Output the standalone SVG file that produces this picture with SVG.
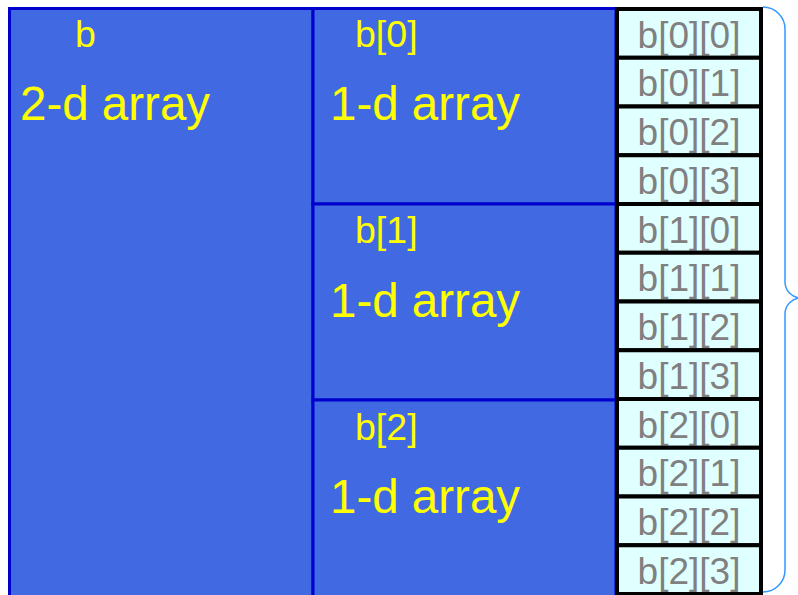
<svg xmlns="http://www.w3.org/2000/svg" width="798" height="595" viewBox="0 0 798 595">
<style>
.blk{fill:#4169E1;stroke:#0000CC;stroke-width:3}
.cell{fill:#E0FFFF;stroke:#000;stroke-width:4}
.lab{font-family:"Liberation Sans",Arial,sans-serif;fill:#FFFF00;font-size:37.5px}
.big{font-family:"Liberation Sans",Arial,sans-serif;fill:#FFFF00;font-size:47.5px}
.ct{font-family:"Liberation Sans",Arial,sans-serif;fill:#808080;font-size:37px;text-anchor:middle}
.brace{fill:none;stroke:#3399FF;stroke-width:1.5}
</style>
<rect width="798" height="595" fill="#fff"/>
<g id="b">
<rect class="blk" x="9.5" y="8.5" width="303.5" height="600"/>
<text class="lab" x="75" y="47">b</text>
<text class="big" x="20" y="120">2-d array</text>
</g>
<g id="b0">
<rect class="blk" x="313" y="8.5" width="303" height="195.5"/>
<text class="lab" x="355" y="47">b[0]</text>
<text class="big" x="330" y="120">1-d array</text>
</g>
<g id="b1">
<rect class="blk" x="313" y="204" width="303" height="196"/>
<text class="lab" x="355" y="243">b[1]</text>
<text class="big" x="330" y="317">1-d array</text>
</g>
<g id="b2">
<rect class="blk" x="313" y="400" width="303" height="210"/>
<text class="lab" x="355" y="440">b[2]</text>
<text class="big" x="330" y="513">1-d array</text>
</g>
<g id="c00"><rect class="cell" x="617" y="9" width="144" height="48.75"/><text class="ct" x="689" y="47.5">b[0][0]</text></g>
<g id="c01"><rect class="cell" x="617" y="57.75" width="144" height="48.75"/><text class="ct" x="689" y="96.25">b[0][1]</text></g>
<g id="c02"><rect class="cell" x="617" y="106.5" width="144" height="48.75"/><text class="ct" x="689" y="145">b[0][2]</text></g>
<g id="c03"><rect class="cell" x="617" y="155.25" width="144" height="48.75"/><text class="ct" x="689" y="193.75">b[0][3]</text></g>
<g id="c10"><rect class="cell" x="617" y="204" width="144" height="48.75"/><text class="ct" x="689" y="242.5">b[1][0]</text></g>
<g id="c11"><rect class="cell" x="617" y="252.75" width="144" height="48.75"/><text class="ct" x="689" y="291.25">b[1][1]</text></g>
<g id="c12"><rect class="cell" x="617" y="301.5" width="144" height="48.75"/><text class="ct" x="689" y="340">b[1][2]</text></g>
<g id="c13"><rect class="cell" x="617" y="350.25" width="144" height="48.75"/><text class="ct" x="689" y="388.75">b[1][3]</text></g>
<g id="c20"><rect class="cell" x="617" y="399" width="144" height="48.75"/><text class="ct" x="689" y="437.5">b[2][0]</text></g>
<g id="c21"><rect class="cell" x="617" y="447.75" width="144" height="48.75"/><text class="ct" x="689" y="486.25">b[2][1]</text></g>
<g id="c22"><rect class="cell" x="617" y="496.5" width="144" height="48.75"/><text class="ct" x="689" y="535">b[2][2]</text></g>
<g id="c23"><rect class="cell" x="617" y="545.25" width="144" height="48.75"/><text class="ct" x="689" y="583.75">b[2][3]</text></g>
<g id="brace">
<path class="brace" d="M763,7 A22,22 0 0 1 785,29 L785,282 A16,16 0 0 0 801,298 A16,16 0 0 0 785,314 L785,570 A22,22 0 0 1 763,592"/>
</g>
</svg>
